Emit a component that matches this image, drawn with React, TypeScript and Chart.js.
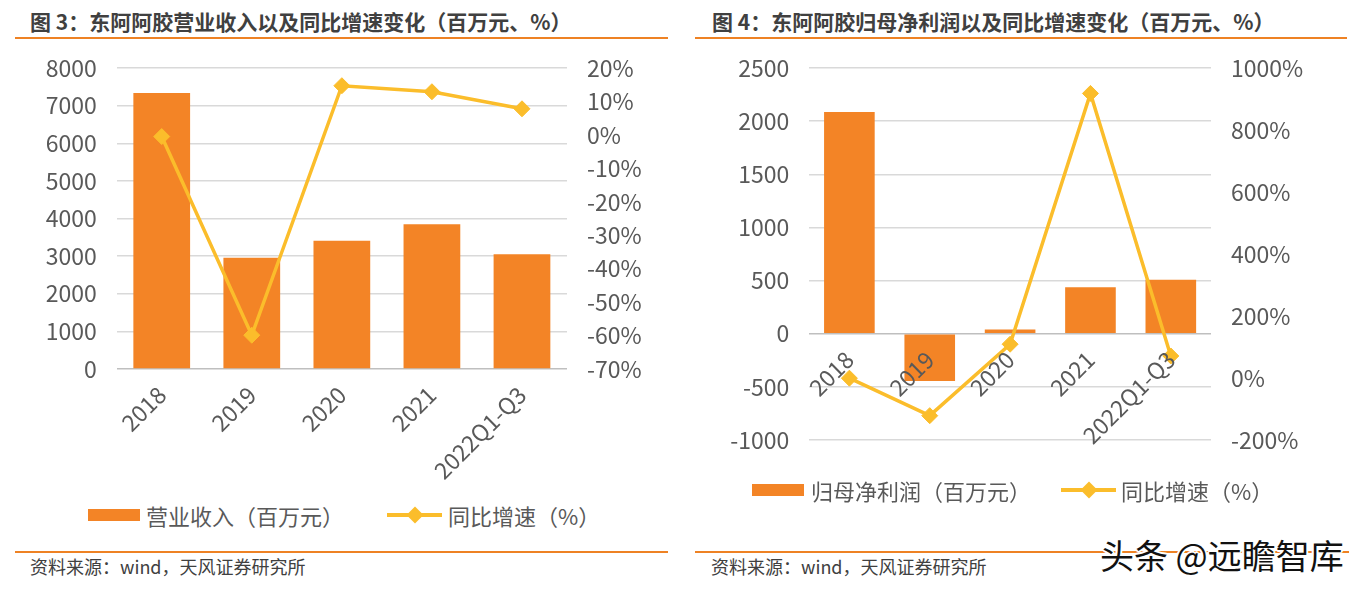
import React, { useEffect, useRef } from "react";
import { Chart, registerables } from "chart.js";

Chart.register(...registerables);

// ---------- data ----------
const categories = ["2018", "2019", "2020", "2021", "2022Q1-Q3"];
const revenue = [7338, 2959, 3409, 3848, 3049];
const revenueGrowth = [-0.5, -59.9, 14.7, 12.9, 7.8];
const netProfit = [2085, -444, 40, 438, 508];
const netProfitGrowth = [-0.6, -121.5, 109, 918, 71];

const revenueAxis = { min: 0, max: 8000, step: 1000 };
const revenueGrowthAxis = { min: -70, max: 20, step: 10 };
const profitAxis = { min: -1000, max: 2500, step: 500 };
const profitGrowthAxis = { min: -200, max: 1000, step: 200 };

const title3 = "图 3：东阿阿胶营业收入以及同比增速变化（百万元、%）";
const title4 = "图 4：东阿阿胶归母净利润以及同比增速变化（百万元、%）";
const legendRevenue = "营业收入（百万元）";
const legendProfit = "归母净利润（百万元）";
const legendGrowth = "同比增速（%）";
const sourceText = "资料来源：wind，天风证券研究所";
const watermark = "头条 @远瞻智库";

// ---------- styles ----------
const BAR = "#F38426";
const LINE = "#FBBD2B";
const GRID = "#D9D9D9";
const ZERO = "#BFBFBF";
const TICK = "#595959";
const ORANGE = "#EE8224";
const TICK_FAMILY = "'Noto Sans CJK SC', sans-serif";
const CJK = "'Noto Sans CJK SC', sans-serif";

type Layout = {
  leftW: number;
  rightW: number;
  top: number;
  bottom: number;
  xHeight?: number;
  xAtZero?: boolean;
};

function makeConfig(
  values: number[],
  growth: number[],
  barLabel: string,
  yAx: { min: number; max: number; step: number },
  y1Ax: { min: number; max: number; step: number },
  lay: Layout
): any {
  const tickFont = { family: TICK_FAMILY, size: 23 };
  const xScale: any = {
    grid: { display: false },
    border: { display: false },
    ticks: {
      minRotation: 45,
      maxRotation: 45,
      color: TICK,
      font: tickFont,
      padding: 4,
      autoSkip: false,
    },
  };
  if (lay.xAtZero) {
    xScale.position = { y: 0 };
    xScale.ticks.z = 1;
  } else {
    xScale.afterFit = (s: any) => {
      s.height = lay.xHeight;
    };
  }
  return {
    type: "bar",
    data: {
      labels: categories,
      datasets: [
        {
          type: "line",
          label: legendGrowth,
          data: growth,
          yAxisID: "y1",
          borderColor: LINE,
          backgroundColor: LINE,
          borderWidth: 3.5,
          pointStyle: "rectRot",
          pointRadius: 8,
          pointBackgroundColor: LINE,
          pointBorderColor: LINE,
          pointBorderWidth: 1,
          tension: 0,
          order: 0,
        },
        {
          type: "bar",
          label: barLabel,
          data: values,
          yAxisID: "y",
          backgroundColor: BAR,
          categoryPercentage: 1,
          barPercentage: 0.63,
          order: 1,
        },
      ],
    },
    options: {
      responsive: false,
      animation: false,
      layout: { padding: { top: lay.top, bottom: lay.bottom, left: 0, right: 0 } },
      plugins: { legend: { display: false }, tooltip: { enabled: false }, title: { display: false } },
      scales: {
        x: xScale,
        y: {
          position: "left",
          min: yAx.min,
          max: yAx.max,
          ticks: {
            stepSize: yAx.step,
            padding: 20,
            color: TICK,
            font: tickFont,
            autoSkip: false,
            callback: (v: any) => String(v),
          },
          grid: {
            color: (ctx: any) => (ctx.tick && ctx.tick.value === 0 ? ZERO : GRID),
            lineWidth: 1.5,
            drawTicks: false,
          },
          border: { display: false },
          afterFit: (s: any) => {
            s.width = lay.leftW;
            s.paddingTop = 0;
            s.paddingBottom = 0;
          },
        },
        y1: {
          position: "right",
          min: y1Ax.min,
          max: y1Ax.max,
          ticks: {
            stepSize: y1Ax.step,
            padding: 20,
            color: TICK,
            font: tickFont,
            autoSkip: false,
            callback: (v: any) => `${v}%`,
          },
          grid: { drawOnChartArea: false, drawTicks: false },
          border: { display: false },
          afterFit: (s: any) => {
            s.width = lay.rightW;
            s.paddingTop = 0;
            s.paddingBottom = 0;
          },
        },
      },
    },
  };
}

function ChartCanvas({ config, left, top, width, height }: any) {
  const ref = useRef<HTMLCanvasElement>(null);
  useEffect(() => {
    if (!ref.current) return;
    const chart = new Chart(ref.current, config);
    return () => chart.destroy();
  }, []);
  return (
    <canvas
      ref={ref}
      width={width}
      height={height}
      style={{ position: "absolute", left, top, width, height, display: "block" }}
    />
  );
}

function Legend({ y, rectX, barText, barTextX, lineX1, lineX2, growthTextX }: any) {
  const text: React.CSSProperties = {
    position: "absolute",
    top: y - 16,
    height: 32,
    lineHeight: "32px",
    fontFamily: CJK,
    fontSize: 22,
    color: TICK,
    whiteSpace: "nowrap",
  };
  const dcx = (lineX1 + lineX2) / 2;
  return (
    <>
      <div style={{ position: "absolute", left: rectX, top: y - 6, width: 52, height: 12, background: BAR }} />
      <div style={{ ...text, left: barTextX }}>{barText}</div>
      <div style={{ position: "absolute", left: lineX1, top: y - 2, width: lineX2 - lineX1, height: 4, background: LINE }} />
      <div
        style={{
          position: "absolute",
          left: dcx - 6,
          top: y - 6,
          width: 12,
          height: 12,
          background: LINE,
          transform: "rotate(45deg)",
        }}
      />
      <div style={{ ...text, left: growthTextX }}>{legendGrowth}</div>
    </>
  );
}

export default function App() {
  const cfg3 = makeConfig(revenue, revenueGrowth, legendRevenue, revenueAxis, revenueGrowthAxis, {
    leftW: 116.7,
    rightW: 115,
    top: 18,
    bottom: 0,
    xHeight: 121,
  });
  const cfg4 = makeConfig(netProfit, netProfitGrowth, legendProfit, profitAxis, profitGrowthAxis, {
    leftW: 127.2,
    rightW: 153,
    top: 18,
    bottom: 50,
    xAtZero: true,
  });

  const titleStyle: React.CSSProperties = {
    position: "absolute",
    top: 8,
    height: 26,
    lineHeight: "26px",
    fontFamily: CJK,
    fontWeight: 700,
    fontSize: 21,
    color: "#404040",
    whiteSpace: "nowrap",
  };
  const sourceStyle: React.CSSProperties = {
    position: "absolute",
    top: 555,
    height: 22,
    lineHeight: "22px",
    fontFamily: CJK,
    fontSize: 18,
    color: "#404040",
    whiteSpace: "nowrap",
  };
  const line = (left: number, top: number, width: number): React.CSSProperties => ({
    position: "absolute",
    left,
    top,
    width,
    height: 2,
    background: ORANGE,
  });

  return (
    <div
      style={{
        position: "fixed",
        left: 0,
        top: 0,
        width: 1364,
        height: 589,
        background: "#fff",
        overflow: "hidden",
      }}
    >
      <div style={{ ...titleStyle, left: 30 }}>{title3}</div>
      <div style={{ ...titleStyle, left: 712 }}>{title4}</div>
      <div style={line(15, 37, 653)} />
      <div style={line(695, 37, 652)} />

      <ChartCanvas config={cfg3} left={0} top={50} width={682} height={440} />
      <ChartCanvas config={cfg4} left={682} top={50} width={682} height={440} />

      <Legend y={515} rectX={88} barText={legendRevenue} barTextX={146} lineX1={387} lineX2={442} growthTextX={448} />
      <Legend y={490} rectX={752} barText={legendProfit} barTextX={811} lineX1={1061} lineX2={1116} growthTextX={1121} />

      <div style={line(15, 551, 653)} />
      <div style={line(695, 551, 654)} />
      <div style={{ ...sourceStyle, left: 30 }}>{sourceText}</div>
      <div style={{ ...sourceStyle, left: 711 }}>{sourceText}</div>

      <div
        style={{
          position: "absolute",
          left: 1100,
          top: 533,
          height: 44,
          lineHeight: "44px",
          fontFamily: CJK,
          fontSize: 34,
          color: "#111",
          whiteSpace: "nowrap",
          textShadow: "2px 0 #fff, -2px 0 #fff, 0 2px #fff, 0 -2px #fff, 1px 1px #fff, -1px -1px #fff, 1px -1px #fff, -1px 1px #fff",
        }}
      >
        {watermark}
      </div>
    </div>
  );
}
